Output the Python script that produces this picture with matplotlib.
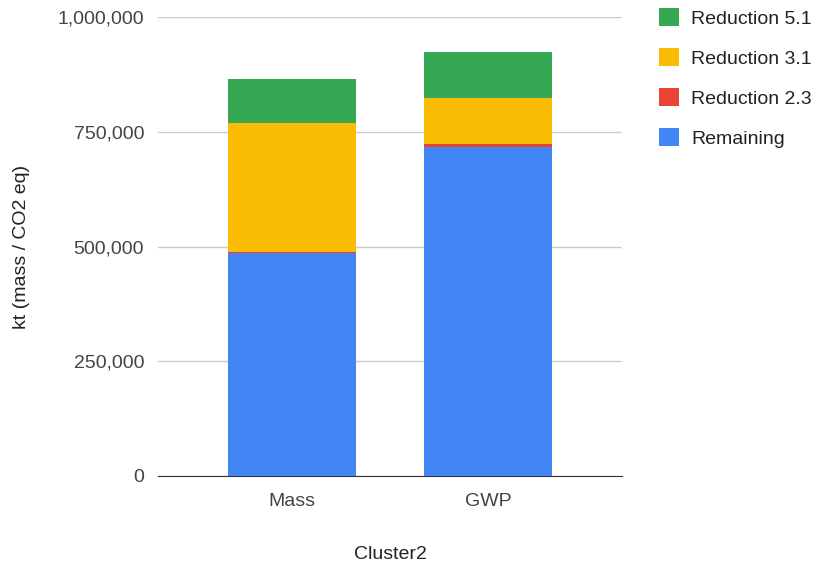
import matplotlib

matplotlib.use("Agg")
import matplotlib.pyplot as plt
from matplotlib.ticker import FuncFormatter

categories = ["Mass", "GWP"]
series_names = ["Remaining", "Reduction 2.3", "Reduction 3.1", "Reduction 5.1"]
remaining = [485000, 717000]
reduction_2_3 = [4000, 5500]
reduction_3_1 = [279500, 100500]
reduction_5_1 = [97500, 101500]
y_ticks = [0, 250000, 500000, 750000, 1000000]

colors = ["#4285F4", "#EA4335", "#FBBC04", "#34A853"]

plt.rcParams["font.family"] = ["Liberation Sans", "DejaVu Sans"]

fig = plt.figure(figsize=(8.17, 5.62), dpi=100)
ax = fig.add_axes([158 / 817, 1 - 476 / 562, 464 / 817, 459 / 562])

x = range(len(categories))
bottom = [0, 0]
handles = []
for name, values, color in zip(series_names,
                               [remaining, reduction_2_3, reduction_3_1, reduction_5_1],
                               colors):
    bars = ax.bar(x, values, width=0.65, bottom=bottom, color=color, label=name,
                  zorder=3, linewidth=0)
    handles.append(bars)
    bottom = [b + v for b, v in zip(bottom, values)]

ax.set_xlim(-0.68, 1.68)
ax.set_ylim(0, 1000000)
ax.set_yticks(y_ticks)
ax.yaxis.set_major_formatter(FuncFormatter(lambda v, _: f"{int(v):,}"))
ax.set_xticks(list(x))
ax.set_xticklabels(categories)
ax.grid(axis="y", color="#cccccc", linewidth=1, zorder=0)
ax.tick_params(axis="both", length=0, labelsize=14, labelcolor="#444444", pad=10)
ax.tick_params(axis="x", pad=12)
for side in ["top", "right", "left"]:
    ax.spines[side].set_visible(False)
ax.spines["bottom"].set_color("#333333")
ax.spines["bottom"].set_zorder(4)

ax.set_ylabel("kt (mass / CO2 eq)", fontsize=14, color="#222222", labelpad=20)
ax.set_xlabel("Cluster2", fontsize=14, color="#222222", labelpad=26)

fig.legend(handles[::-1], series_names[::-1], loc="upper left",
           bbox_to_anchor=(641 / 817, 1 + 9 / 562), frameon=False, fontsize=14,
           handlelength=1.03, handleheight=1.03, handletextpad=0.65,
           labelspacing=1.05, labelcolor="#222222")

plt.savefig("out.png", dpi=100)
plt.close(fig)
